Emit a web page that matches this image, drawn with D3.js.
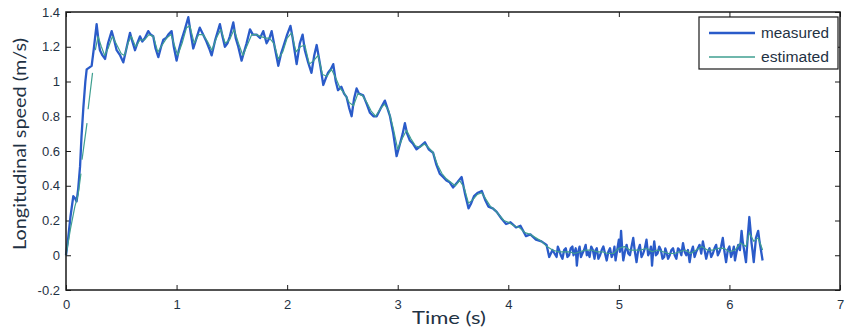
<!DOCTYPE html>
<html>
<head>
<meta charset="utf-8">
<script src="https://cdn.jsdelivr.net/npm/d3@7"></script>
<style>
  html, body { margin: 0; padding: 0; background: #ffffff; }
  svg { display: block; }
  .tick text { font-family: "Liberation Sans", Arial, sans-serif; font-size: 13px; fill: #1f3244; }
  .tick line { stroke: #1a1a1a; }
  .axis path { display: none; }
</style>
</head>
<body>
<svg id="chart" width="849" height="329"></svg>
<script>

const measuredTime = [
  0.00, 0.02, 0.04, 0.066, 0.08, 0.096, 0.11, 0.127, 0.14, 0.157, 0.175, 0.187, 0.21, 0.232, 0.25, 0.277,
  0.295, 0.307, 0.33, 0.353, 0.38, 0.413, 0.435, 0.458, 0.49, 0.518, 0.55, 0.579, 0.60, 0.624, 0.645, 0.669,
  0.69, 0.714, 0.744, 0.765, 0.789, 0.81, 0.835, 0.86, 0.88, 0.905, 0.925, 0.955, 0.975, 1.00, 1.02, 1.045,
  1.075, 1.106, 1.13, 1.151, 1.18, 1.21, 1.24, 1.27, 1.295, 1.317, 1.35, 1.392, 1.415, 1.437, 1.46, 1.482,
  1.513, 1.535, 1.558, 1.588, 1.61, 1.633, 1.664, 1.69, 1.724, 1.755, 1.784, 1.814, 1.84, 1.86, 1.89, 1.92,
  1.945, 1.965, 2.00, 2.03, 2.05, 2.086, 2.115, 2.14, 2.16, 2.19, 2.22, 2.245, 2.267, 2.30, 2.327, 2.35,
  2.37, 2.395, 2.417, 2.44, 2.46, 2.49, 2.515, 2.538, 2.56, 2.583, 2.605, 2.628, 2.65, 2.688, 2.72, 2.749,
  2.78, 2.81, 2.85, 2.884, 2.905, 2.93, 2.96, 2.99, 3.02, 3.045, 3.065, 3.085, 3.11, 3.14, 3.17, 3.21,
  3.246, 3.28, 3.32, 3.35, 3.38, 3.41, 3.44, 3.47, 3.50, 3.54, 3.578, 3.61, 3.64, 3.665, 3.69, 3.725,
  3.76, 3.79, 3.82, 3.86, 3.895, 3.94, 3.98, 4.02, 4.07, 4.11, 4.16, 4.20, 4.25, 4.30, 4.346, 4.37,
  4.40, 4.437,
  4.448, 4.46, 4.475, 4.49, 4.505, 4.52, 4.535, 4.55,
  4.565, 4.58, 4.59, 4.60, 4.61, 4.62, 4.632, 4.645,
  4.657, 4.67, 4.685, 4.70, 4.71, 4.72, 4.735, 4.75,
  4.765, 4.78, 4.79, 4.80, 4.815, 4.83, 4.845, 4.86,
  4.875, 4.89, 4.905, 4.92, 4.935, 4.95, 4.96, 4.97,
  4.985, 5.00, 5.01, 5.02, 5.03, 5.04, 5.055, 5.07,
  5.085, 5.10, 5.115, 5.13, 5.145, 5.16, 5.175, 5.19,
  5.205, 5.22, 5.235, 5.25, 5.265, 5.28, 5.29, 5.30,
  5.31, 5.32, 5.335, 5.35, 5.365, 5.38, 5.395, 5.41,
  5.42, 5.43, 5.445, 5.46, 5.475, 5.49, 5.505, 5.52,
  5.535, 5.55, 5.565, 5.58, 5.595, 5.61, 5.625, 5.64,
  5.655, 5.67, 5.685, 5.70, 5.715, 5.73, 5.745, 5.76,
  5.775, 5.79, 5.805, 5.82, 5.835, 5.85, 5.865, 5.88,
  5.895, 5.91, 5.925, 5.94, 5.955, 5.97, 5.985, 6.00,
  6.015, 6.03, 6.04, 6.05, 6.065, 6.08, 6.095, 6.11,
  6.12, 6.13, 6.14, 6.15, 6.165, 6.18, 6.19, 6.20,
  6.21, 6.22, 6.23, 6.24, 6.25, 6.26, 6.27, 6.28,
  6.29, 6.30
];
const measuredSpeed = [
  0.00, 0.10, 0.22, 0.34, 0.33, 0.31, 0.38, 0.51, 0.68, 0.85, 1.00, 1.07, 1.08, 1.09, 1.18, 1.33,
  1.23, 1.18, 1.15, 1.13, 1.22, 1.29, 1.24, 1.18, 1.15, 1.11, 1.20, 1.28, 1.23, 1.18, 1.22, 1.26,
  1.23, 1.25, 1.29, 1.27, 1.26, 1.19, 1.14, 1.20, 1.24, 1.25, 1.27, 1.29, 1.20, 1.12, 1.18, 1.24,
  1.30, 1.37, 1.27, 1.19, 1.25, 1.31, 1.27, 1.23, 1.19, 1.15, 1.24, 1.33, 1.26, 1.20, 1.22, 1.26,
  1.34, 1.25, 1.20, 1.12, 1.17, 1.22, 1.30, 1.27, 1.27, 1.25, 1.29, 1.22, 1.25, 1.29, 1.19, 1.09,
  1.16, 1.20, 1.27, 1.32, 1.25, 1.10, 1.22, 1.27, 1.18, 1.11, 1.05, 1.15, 1.21, 1.09, 0.98, 1.02,
  1.05, 1.07, 1.10, 1.00, 0.95, 0.97, 0.93, 0.91, 0.85, 0.80, 0.90, 0.96, 0.93, 0.92, 0.87, 0.82,
  0.80, 0.80, 0.85, 0.89, 0.85, 0.80, 0.70, 0.57, 0.64, 0.70, 0.76, 0.70, 0.66, 0.64, 0.61, 0.63,
  0.65, 0.61, 0.59, 0.52, 0.47, 0.45, 0.43, 0.42, 0.39, 0.42, 0.45, 0.35, 0.27, 0.30, 0.34, 0.36,
  0.37, 0.32, 0.28, 0.27, 0.25, 0.21, 0.18, 0.19, 0.16, 0.17, 0.11, 0.12, 0.09, 0.08, 0.06, -0.01,
  0.03, -0.01,
  0.05, 0.03, 0.00, -0.02, 0.03, 0.04, -0.01, 0.00,
  0.04, 0.05, 0.00, 0.02, 0.04, -0.06, 0.02, 0.05,
  -0.01, 0.01, 0.03, 0.06, 0.00, 0.02, -0.01, 0.05,
  0.03, -0.02, 0.03, 0.04, -0.02, 0.00, 0.03, 0.05,
  0.01, -0.03, 0.02, 0.04, -0.01, 0.01, 0.05, -0.03,
  0.03, 0.09, 0.02, 0.14, 0.04, -0.03, 0.02, 0.06,
  0.01, 0.00, 0.05, 0.10, 0.02, -0.04, 0.03, 0.06,
  -0.01, 0.01, 0.04, 0.09, 0.00, 0.02, 0.05, -0.06,
  0.02, 0.08, 0.00, 0.01, 0.05, 0.03, -0.02, -0.01,
  0.04, 0.02, -0.02, 0.00, 0.03, 0.04, 0.00, -0.02,
  0.04, 0.03, 0.00, 0.07, 0.02, 0.00, 0.03, -0.04,
  0.02, 0.05, -0.01, 0.02, 0.04, 0.06, 0.01, 0.08,
  0.03, -0.02, 0.02, 0.04, -0.01, 0.01, 0.04, 0.06,
  0.00, 0.02, 0.05, 0.10, 0.02, -0.04, 0.03, 0.05,
  -0.01, 0.02, 0.05, -0.03, 0.02, 0.06, 0.03, 0.14,
  0.08, 0.04, 0.00, -0.04, 0.10, 0.22, 0.15, 0.07,
  0.02, -0.04, 0.03, 0.10, 0.12, 0.14, 0.09, 0.05,
  0.01, -0.03
];

// null = coupure visible de la courbe estimée au démarrage
const estimatedTime = [
  0.00, 0.04, 0.08, 0.11, 0.135, 0.14, 0.145, 0.19, 0.195, 0.20, 0.24, 0.25, 0.265, 0.29, 0.32, 0.35,
  0.38, 0.42, 0.46, 0.50, 0.53, 0.56, 0.59, 0.63, 0.67, 0.71, 0.75, 0.79, 0.83, 0.87, 0.91, 0.95,
  0.98, 1.01, 1.05, 1.09, 1.12, 1.16, 1.20, 1.24, 1.28, 1.32, 1.36, 1.40, 1.44, 1.48, 1.52, 1.56,
  1.60, 1.64, 1.68, 1.72, 1.76, 1.80, 1.84, 1.88, 1.92, 1.96, 2.00, 2.04, 2.08, 2.12, 2.16, 2.20,
  2.24, 2.28, 2.32, 2.36, 2.40, 2.44, 2.48, 2.52, 2.56, 2.60, 2.64, 2.68, 2.72, 2.76, 2.80, 2.84,
  2.88, 2.92, 2.96, 3.00, 3.04, 3.08, 3.12, 3.16, 3.20, 3.24, 3.28, 3.32, 3.36, 3.40, 3.44, 3.48,
  3.52, 3.56, 3.60, 3.64, 3.68, 3.72, 3.76, 3.80, 3.84, 3.88, 3.92, 3.96, 4.00, 4.05, 4.10, 4.15,
  4.20, 4.25, 4.30, 4.35, 4.40, 4.45, 4.50, 4.55, 4.60, 4.65, 4.70, 4.75, 4.80, 4.85, 4.90, 4.95,
  5.00, 5.05, 5.10, 5.15, 5.20, 5.25, 5.30, 5.35, 5.40, 5.45, 5.50, 5.55, 5.60, 5.65, 5.70, 5.75,
  5.80, 5.85, 5.90, 5.95, 6.00, 6.05, 6.10, 6.15, 6.18, 6.22, 6.26, 6.30
];
const estimatedSpeed = [
  0.00, 0.15, 0.28, 0.35, 0.47, null, 0.55, 0.76, null, 0.84, 1.05, null, 1.18, 1.26, 1.20, 1.15,
  1.19, 1.26, 1.21, 1.16, 1.15, 1.22, 1.26, 1.20, 1.24, 1.24, 1.27, 1.26, 1.17, 1.21, 1.25, 1.27,
  1.21, 1.15, 1.22, 1.31, 1.32, 1.22, 1.27, 1.27, 1.23, 1.18, 1.25, 1.30, 1.22, 1.24, 1.30, 1.22,
  1.15, 1.21, 1.27, 1.27, 1.26, 1.25, 1.25, 1.22, 1.13, 1.17, 1.25, 1.28, 1.17, 1.20, 1.21, 1.10,
  1.12, 1.15, 1.04, 1.03, 1.07, 1.02, 0.96, 0.93, 0.88, 0.86, 0.93, 0.92, 0.88, 0.83, 0.80, 0.84,
  0.87, 0.83, 0.73, 0.61, 0.67, 0.72, 0.67, 0.63, 0.62, 0.64, 0.62, 0.59, 0.52, 0.47, 0.44, 0.42,
  0.40, 0.43, 0.39, 0.30, 0.32, 0.35, 0.36, 0.32, 0.28, 0.26, 0.23, 0.20, 0.19, 0.17, 0.16, 0.13,
  0.12, 0.10, 0.08, 0.05, 0.03, 0.02, 0.02, 0.02, 0.01, 0.02, 0.03, 0.03, 0.02, 0.02, 0.01, 0.01,
  0.04, 0.05, 0.03, 0.03, 0.03, 0.04, 0.02, 0.03, 0.02, 0.01, 0.01, 0.02, 0.03, 0.01, 0.03, 0.05,
  0.03, 0.03, 0.04, 0.04, 0.02, 0.03, 0.07, 0.05, 0.13, 0.08, 0.10, 0.03
];

const xTickValues = [0, 1, 2, 3, 4, 5, 6, 7];
const xTickLabels = ['0', '1', '2', '3', '4', '5', '6', '7'];
const yTickValues = [-0.2, 0, 0.2, 0.4, 0.6, 0.8, 1, 1.2, 1.4];
const yTickLabels = ['-0.2', '0', '0.2', '0.4', '0.6', '0.8', '1', '1.2', '1.4'];

const seriesNames = ['measured', 'estimated'];
const seriesColors = ['#2a5bc9', '#3f9f90'];

const PLOT = { left: 66, right: 840, top: 12, bottom: 290 };
const TICK = 5;

const svg = d3.select('#chart');

const x = d3.scaleLinear().domain([0, 7]).range([PLOT.left, PLOT.right]);
const y = d3.scaleLinear().domain([-0.2, 1.4]).range([PLOT.bottom, PLOT.top]);

// --- Axes, ticks vers l'intérieur sur les quatre côtés (style MATLAB) ---
svg.append('g').attr('class', 'axis')
  .attr('transform', `translate(0,${PLOT.bottom})`)
  .call(d3.axisBottom(x).tickValues(xTickValues).tickSizeInner(-TICK).tickSizeOuter(0).tickPadding(10)
    .tickFormat((d, i) => xTickLabels[i]));

svg.append('g').attr('class', 'axis')
  .attr('transform', `translate(0,${PLOT.top})`)
  .call(d3.axisTop(x).tickValues(xTickValues).tickSizeInner(-TICK).tickSizeOuter(0).tickFormat(''));

svg.append('g').attr('class', 'axis')
  .attr('transform', `translate(${PLOT.left},0)`)
  .call(d3.axisLeft(y).tickValues(yTickValues).tickSizeInner(-TICK).tickSizeOuter(0).tickPadding(6)
    .tickFormat((d, i) => yTickLabels[i]));

svg.append('g').attr('class', 'axis')
  .attr('transform', `translate(${PLOT.right},0)`)
  .call(d3.axisRight(y).tickValues(yTickValues).tickSizeInner(-TICK).tickSizeOuter(0).tickFormat(''));

// --- Courbes ---
const plotArea = svg.append('g');

function lineFor(times) {
  return d3.line()
    .defined(d => d !== null)
    .x((d, i) => x(times[i]))
    .y(d => y(d));
}

plotArea.append('path')
  .datum(measuredSpeed)
  .attr('fill', 'none')
  .attr('stroke', seriesColors[0])
  .attr('stroke-width', 2.3)
  .attr('stroke-linejoin', 'round')
  .attr('d', lineFor(measuredTime));

plotArea.append('path')
  .datum(estimatedSpeed)
  .attr('fill', 'none')
  .attr('stroke', seriesColors[1])
  .attr('stroke-width', 1.2)
  .attr('stroke-linejoin', 'round')
  .attr('d', lineFor(estimatedTime));

// cadre
svg.append('rect')
  .attr('x', PLOT.left).attr('y', PLOT.top)
  .attr('width', PLOT.right - PLOT.left).attr('height', PLOT.bottom - PLOT.top)
  .attr('fill', 'none').attr('stroke', '#1a1a1a').attr('stroke-width', 1.5);

// --- Libellés d'axes ---
svg.append('text')
  .attr('x', 449).attr('y', 324)
  .attr('text-anchor', 'middle')
  .attr('textLength', 74).attr('lengthAdjust', 'spacingAndGlyphs')
  .style('font-family', 'Lato, "Open Sans", sans-serif').style('font-size', '18px').style('fill', '#1f3244')
  .text('Time (s)');

svg.append('text')
  .attr('transform', 'translate(26,144) rotate(-90)')
  .attr('text-anchor', 'middle')
  .attr('textLength', 212).attr('lengthAdjust', 'spacingAndGlyphs')
  .style('font-family', 'Lato, "Open Sans", sans-serif').style('font-size', '18px').style('fill', '#1f3244')
  .text('Longitudinal speed (m/s)');

// --- Légende ---
const legend = svg.append('g').attr('transform', 'translate(699,17)');
legend.append('rect')
  .attr('width', 139).attr('height', 52)
  .attr('fill', '#ffffff').attr('stroke', '#1a1a1a').attr('stroke-width', 1.2);

seriesNames.forEach((name, i) => {
  const rowY = 16 + i * 24;
  legend.append('line')
    .attr('x1', 10).attr('x2', 56).attr('y1', rowY).attr('y2', rowY)
    .attr('stroke', seriesColors[i]).attr('stroke-width', i === 0 ? 2.3 : 1.5);
  legend.append('text')
    .attr('x', 62).attr('y', rowY)
    .attr('dominant-baseline', 'central')
    .attr('textLength', 68).attr('lengthAdjust', 'spacingAndGlyphs')
    .style('font-family', '"Liberation Sans", Arial, sans-serif').style('font-size', '14px').style('fill', '#1f3244')
    .text(name);
});
</script>
</body>
</html>
